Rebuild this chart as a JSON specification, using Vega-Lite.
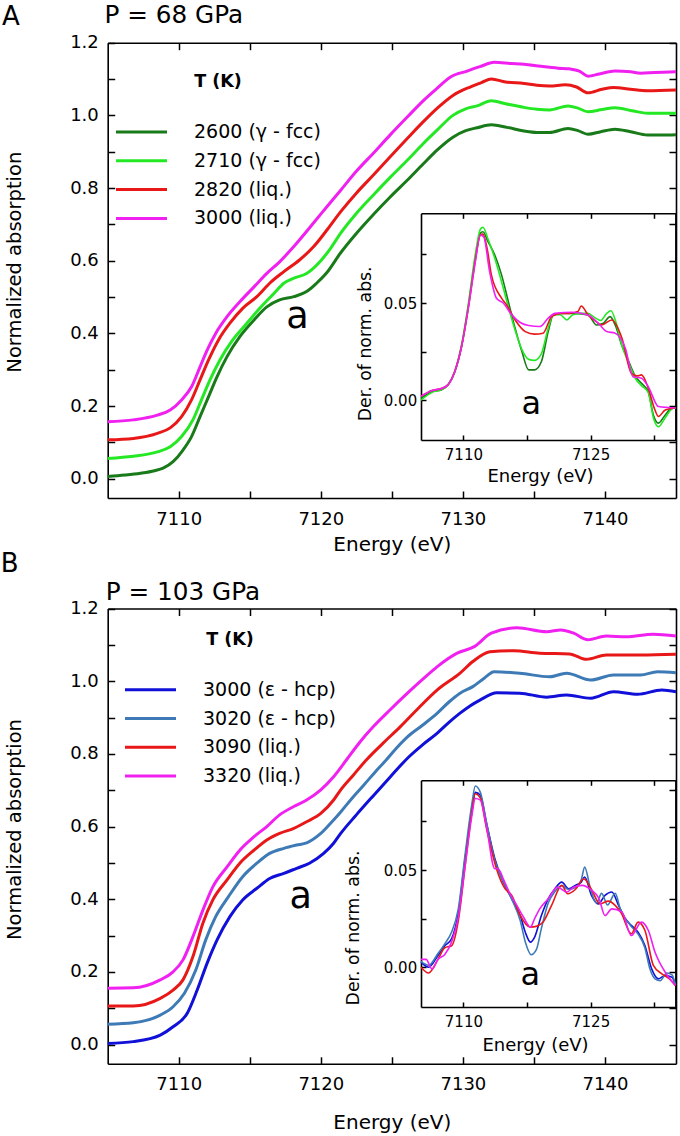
{
"$schema":"https://vega.github.io/schema/vega-lite/v6.json",
"padding":0,"background":"white","spacing":0,"bounds":"flush",
"config":{"font":"DejaVu Sans","view":{"stroke":null},
 "axis":{"grid":false,"domainColor":"#000","domainWidth":1.6,"tickColor":"#000","tickWidth":1.5,"labelColor":"#000","titleColor":"#000","labelFont":"DejaVu Sans","titleFont":"DejaVu Sans","titleFontWeight":"normal","labelFlush":false,"labelOverlap":false,"zindex":1},
 "text":{"font":"DejaVu Sans","color":"#000"}},
"resolve":{"scale":{"color":"independent","size":"independent"},"legend":{"color":"independent"}},
"datasets":{
"mainA":[
{"s":"2600 (γ - fcc)","e":7105,"v":0.006},{"s":"2600 (γ - fcc)","e":7106.2,"v":0.010},{"s":"2600 (γ - fcc)","e":7107.3,"v":0.015},{"s":"2600 (γ - fcc)","e":7108.3,"v":0.022},{"s":"2600 (γ - fcc)","e":7108.9,"v":0.029},{"s":"2600 (γ - fcc)","e":7109.6,"v":0.047},{"s":"2600 (γ - fcc)","e":7110.3,"v":0.079},{"s":"2600 (γ - fcc)","e":7110.9,"v":0.116},{"s":"2600 (γ - fcc)","e":7111.5,"v":0.171},{"s":"2600 (γ - fcc)","e":7112.1,"v":0.226},{"s":"2600 (γ - fcc)","e":7112.7,"v":0.281},{"s":"2600 (γ - fcc)","e":7113.4,"v":0.336},{"s":"2600 (γ - fcc)","e":7114.3,"v":0.391},{"s":"2600 (γ - fcc)","e":7115.3,"v":0.437},{"s":"2600 (γ - fcc)","e":7116.2,"v":0.473},{"s":"2600 (γ - fcc)","e":7117.1,"v":0.492},{"s":"2600 (γ - fcc)","e":7118.1,"v":0.501},{"s":"2600 (γ - fcc)","e":7119.0,"v":0.515},{"s":"2600 (γ - fcc)","e":7119.7,"v":0.538},{"s":"2600 (γ - fcc)","e":7120.4,"v":0.566},{"s":"2600 (γ - fcc)","e":7121.4,"v":0.622},{"s":"2600 (γ - fcc)","e":7122.5,"v":0.675},{"s":"2600 (γ - fcc)","e":7123.7,"v":0.727},{"s":"2600 (γ - fcc)","e":7124.9,"v":0.776},{"s":"2600 (γ - fcc)","e":7126.1,"v":0.822},{"s":"2600 (γ - fcc)","e":7127.2,"v":0.866},{"s":"2600 (γ - fcc)","e":7128.2,"v":0.905},{"s":"2600 (γ - fcc)","e":7129.3,"v":0.940},{"s":"2600 (γ - fcc)","e":7130.2,"v":0.958},{"s":"2600 (γ - fcc)","e":7131.0,"v":0.966},{"s":"2600 (γ - fcc)","e":7132.0,"v":0.974},{"s":"2600 (γ - fcc)","e":7133.1,"v":0.967},{"s":"2600 (γ - fcc)","e":7134.3,"v":0.957},{"s":"2600 (γ - fcc)","e":7135.2,"v":0.953},{"s":"2600 (γ - fcc)","e":7136.1,"v":0.953},{"s":"2600 (γ - fcc)","e":7137.4,"v":0.964},{"s":"2600 (γ - fcc)","e":7138.1,"v":0.958},{"s":"2600 (γ - fcc)","e":7138.8,"v":0.948},{"s":"2600 (γ - fcc)","e":7139.7,"v":0.955},{"s":"2600 (γ - fcc)","e":7140.7,"v":0.962},{"s":"2600 (γ - fcc)","e":7141.8,"v":0.955},{"s":"2600 (γ - fcc)","e":7143.0,"v":0.946},{"s":"2600 (γ - fcc)","e":7144.0,"v":0.946},{"s":"2600 (γ - fcc)","e":7145,"v":0.947},
{"s":"2710 (γ - fcc)","e":7105,"v":0.056},{"s":"2710 (γ - fcc)","e":7106.8,"v":0.062},{"s":"2710 (γ - fcc)","e":7108.5,"v":0.074},{"s":"2710 (γ - fcc)","e":7109.4,"v":0.088},{"s":"2710 (γ - fcc)","e":7110.2,"v":0.116},{"s":"2710 (γ - fcc)","e":7111.0,"v":0.162},{"s":"2710 (γ - fcc)","e":7111.6,"v":0.217},{"s":"2710 (γ - fcc)","e":7112.2,"v":0.272},{"s":"2710 (γ - fcc)","e":7112.9,"v":0.327},{"s":"2710 (γ - fcc)","e":7113.8,"v":0.382},{"s":"2710 (γ - fcc)","e":7114.8,"v":0.428},{"s":"2710 (γ - fcc)","e":7115.7,"v":0.469},{"s":"2710 (γ - fcc)","e":7116.7,"v":0.510},{"s":"2710 (γ - fcc)","e":7117.4,"v":0.538},{"s":"2710 (γ - fcc)","e":7118.1,"v":0.552},{"s":"2710 (γ - fcc)","e":7119.0,"v":0.565},{"s":"2710 (γ - fcc)","e":7120.0,"v":0.600},{"s":"2710 (γ - fcc)","e":7120.7,"v":0.635},{"s":"2710 (γ - fcc)","e":7121.4,"v":0.676},{"s":"2710 (γ - fcc)","e":7122.5,"v":0.730},{"s":"2710 (γ - fcc)","e":7123.7,"v":0.781},{"s":"2710 (γ - fcc)","e":7124.9,"v":0.830},{"s":"2710 (γ - fcc)","e":7126.1,"v":0.877},{"s":"2710 (γ - fcc)","e":7127.2,"v":0.922},{"s":"2710 (γ - fcc)","e":7128.2,"v":0.960},{"s":"2710 (γ - fcc)","e":7129.3,"v":1.000},{"s":"2710 (γ - fcc)","e":7130.2,"v":1.018},{"s":"2710 (γ - fcc)","e":7131.0,"v":1.026},{"s":"2710 (γ - fcc)","e":7132.0,"v":1.040},{"s":"2710 (γ - fcc)","e":7133.0,"v":1.032},{"s":"2710 (γ - fcc)","e":7134.3,"v":1.022},{"s":"2710 (γ - fcc)","e":7135.2,"v":1.017},{"s":"2710 (γ - fcc)","e":7136.1,"v":1.015},{"s":"2710 (γ - fcc)","e":7137.4,"v":1.026},{"s":"2710 (γ - fcc)","e":7138.1,"v":1.020},{"s":"2710 (γ - fcc)","e":7138.8,"v":1.010},{"s":"2710 (γ - fcc)","e":7139.8,"v":1.016},{"s":"2710 (γ - fcc)","e":7140.7,"v":1.021},{"s":"2710 (γ - fcc)","e":7142.0,"v":1.012},{"s":"2710 (γ - fcc)","e":7143.0,"v":1.006},{"s":"2710 (γ - fcc)","e":7145,"v":1.006},
{"s":"2820 (liq.)","e":7105,"v":0.107},{"s":"2820 (liq.)","e":7106.8,"v":0.111},{"s":"2820 (liq.)","e":7108.5,"v":0.125},{"s":"2820 (liq.)","e":7109.4,"v":0.140},{"s":"2820 (liq.)","e":7110.2,"v":0.171},{"s":"2820 (liq.)","e":7110.9,"v":0.217},{"s":"2820 (liq.)","e":7111.5,"v":0.272},{"s":"2820 (liq.)","e":7112.1,"v":0.327},{"s":"2820 (liq.)","e":7112.8,"v":0.382},{"s":"2820 (liq.)","e":7113.6,"v":0.428},{"s":"2820 (liq.)","e":7114.5,"v":0.469},{"s":"2820 (liq.)","e":7115.5,"v":0.501},{"s":"2820 (liq.)","e":7116.4,"v":0.538},{"s":"2820 (liq.)","e":7117.4,"v":0.570},{"s":"2820 (liq.)","e":7118.5,"v":0.602},{"s":"2820 (liq.)","e":7119.5,"v":0.639},{"s":"2820 (liq.)","e":7120.5,"v":0.688},{"s":"2820 (liq.)","e":7121.4,"v":0.735},{"s":"2820 (liq.)","e":7122.5,"v":0.786},{"s":"2820 (liq.)","e":7123.7,"v":0.836},{"s":"2820 (liq.)","e":7124.9,"v":0.887},{"s":"2820 (liq.)","e":7126.1,"v":0.937},{"s":"2820 (liq.)","e":7127.2,"v":0.982},{"s":"2820 (liq.)","e":7128.2,"v":1.020},{"s":"2820 (liq.)","e":7129.3,"v":1.055},{"s":"2820 (liq.)","e":7130.5,"v":1.078},{"s":"2820 (liq.)","e":7131.3,"v":1.090},{"s":"2820 (liq.)","e":7132.0,"v":1.100},{"s":"2820 (liq.)","e":7133.0,"v":1.092},{"s":"2820 (liq.)","e":7134.3,"v":1.088},{"s":"2820 (liq.)","e":7135.2,"v":1.083},{"s":"2820 (liq.)","e":7136.1,"v":1.081},{"s":"2820 (liq.)","e":7137.2,"v":1.084},{"s":"2820 (liq.)","e":7138.0,"v":1.078},{"s":"2820 (liq.)","e":7138.8,"v":1.062},{"s":"2820 (liq.)","e":7139.8,"v":1.072},{"s":"2820 (liq.)","e":7140.6,"v":1.077},{"s":"2820 (liq.)","e":7141.8,"v":1.072},{"s":"2820 (liq.)","e":7143,"v":1.068},{"s":"2820 (liq.)","e":7145,"v":1.070},
{"s":"3000 (liq.)","e":7105,"v":0.157},{"s":"3000 (liq.)","e":7106.8,"v":0.162},{"s":"3000 (liq.)","e":7108.5,"v":0.175},{"s":"3000 (liq.)","e":7109.4,"v":0.189},{"s":"3000 (liq.)","e":7110.2,"v":0.217},{"s":"3000 (liq.)","e":7110.9,"v":0.253},{"s":"3000 (liq.)","e":7111.5,"v":0.308},{"s":"3000 (liq.)","e":7112.0,"v":0.354},{"s":"3000 (liq.)","e":7112.6,"v":0.400},{"s":"3000 (liq.)","e":7113.4,"v":0.446},{"s":"3000 (liq.)","e":7114.3,"v":0.487},{"s":"3000 (liq.)","e":7115.3,"v":0.528},{"s":"3000 (liq.)","e":7116.2,"v":0.565},{"s":"3000 (liq.)","e":7117.1,"v":0.597},{"s":"3000 (liq.)","e":7118.1,"v":0.639},{"s":"3000 (liq.)","e":7119.7,"v":0.714},{"s":"3000 (liq.)","e":7120.5,"v":0.752},{"s":"3000 (liq.)","e":7121.4,"v":0.794},{"s":"3000 (liq.)","e":7122.5,"v":0.846},{"s":"3000 (liq.)","e":7123.7,"v":0.896},{"s":"3000 (liq.)","e":7124.9,"v":0.947},{"s":"3000 (liq.)","e":7126.1,"v":0.996},{"s":"3000 (liq.)","e":7127.2,"v":1.040},{"s":"3000 (liq.)","e":7128.2,"v":1.075},{"s":"3000 (liq.)","e":7129.1,"v":1.105},{"s":"3000 (liq.)","e":7130.3,"v":1.122},{"s":"3000 (liq.)","e":7131.2,"v":1.134},{"s":"3000 (liq.)","e":7132.2,"v":1.146},{"s":"3000 (liq.)","e":7133.4,"v":1.143},{"s":"3000 (liq.)","e":7134.3,"v":1.141},{"s":"3000 (liq.)","e":7135.5,"v":1.135},{"s":"3000 (liq.)","e":7136.7,"v":1.130},{"s":"3000 (liq.)","e":7137.5,"v":1.128},{"s":"3000 (liq.)","e":7138.2,"v":1.122},{"s":"3000 (liq.)","e":7138.8,"v":1.108},{"s":"3000 (liq.)","e":7139.6,"v":1.114},{"s":"3000 (liq.)","e":7140.7,"v":1.122},{"s":"3000 (liq.)","e":7141.8,"v":1.120},{"s":"3000 (liq.)","e":7142.5,"v":1.116},{"s":"3000 (liq.)","e":7143.5,"v":1.118},{"s":"3000 (liq.)","e":7145,"v":1.120}
],
"mainB":[
{"s":"3000 (ε - hcp)","e":7105,"v":0.003},{"s":"3000 (ε - hcp)","e":7106.8,"v":0.008},{"s":"3000 (ε - hcp)","e":7108.7,"v":0.026},{"s":"3000 (ε - hcp)","e":7109.6,"v":0.049},{"s":"3000 (ε - hcp)","e":7110.6,"v":0.086},{"s":"3000 (ε - hcp)","e":7111.3,"v":0.150},{"s":"3000 (ε - hcp)","e":7112.0,"v":0.224},{"s":"3000 (ε - hcp)","e":7112.7,"v":0.288},{"s":"3000 (ε - hcp)","e":7113.6,"v":0.352},{"s":"3000 (ε - hcp)","e":7114.5,"v":0.398},{"s":"3000 (ε - hcp)","e":7115.5,"v":0.430},{"s":"3000 (ε - hcp)","e":7116.4,"v":0.457},{"s":"3000 (ε - hcp)","e":7117.4,"v":0.471},{"s":"3000 (ε - hcp)","e":7118.3,"v":0.485},{"s":"3000 (ε - hcp)","e":7119.2,"v":0.499},{"s":"3000 (ε - hcp)","e":7120.2,"v":0.526},{"s":"3000 (ε - hcp)","e":7120.9,"v":0.554},{"s":"3000 (ε - hcp)","e":7121.4,"v":0.581},{"s":"3000 (ε - hcp)","e":7122.5,"v":0.632},{"s":"3000 (ε - hcp)","e":7123.7,"v":0.685},{"s":"3000 (ε - hcp)","e":7124.9,"v":0.737},{"s":"3000 (ε - hcp)","e":7126.1,"v":0.788},{"s":"3000 (ε - hcp)","e":7127.2,"v":0.826},{"s":"3000 (ε - hcp)","e":7128.2,"v":0.857},{"s":"3000 (ε - hcp)","e":7129.0,"v":0.886},{"s":"3000 (ε - hcp)","e":7129.8,"v":0.912},{"s":"3000 (ε - hcp)","e":7130.5,"v":0.932},{"s":"3000 (ε - hcp)","e":7131.2,"v":0.948},{"s":"3000 (ε - hcp)","e":7132.4,"v":0.968},{"s":"3000 (ε - hcp)","e":7134.0,"v":0.967},{"s":"3000 (ε - hcp)","e":7135.9,"v":0.956},{"s":"3000 (ε - hcp)","e":7137.3,"v":0.962},{"s":"3000 (ε - hcp)","e":7139.0,"v":0.953},{"s":"3000 (ε - hcp)","e":7140.6,"v":0.971},{"s":"3000 (ε - hcp)","e":7142.3,"v":0.964},{"s":"3000 (ε - hcp)","e":7144.0,"v":0.976},{"s":"3000 (ε - hcp)","e":7145,"v":0.971},
{"s":"3020 (ε - hcp)","e":7105,"v":0.056},{"s":"3020 (ε - hcp)","e":7106.8,"v":0.060},{"s":"3020 (ε - hcp)","e":7108.7,"v":0.081},{"s":"3020 (ε - hcp)","e":7109.6,"v":0.104},{"s":"3020 (ε - hcp)","e":7110.4,"v":0.141},{"s":"3020 (ε - hcp)","e":7111.2,"v":0.205},{"s":"3020 (ε - hcp)","e":7111.9,"v":0.288},{"s":"3020 (ε - hcp)","e":7112.6,"v":0.352},{"s":"3020 (ε - hcp)","e":7113.5,"v":0.407},{"s":"3020 (ε - hcp)","e":7114.5,"v":0.462},{"s":"3020 (ε - hcp)","e":7115.5,"v":0.499},{"s":"3020 (ε - hcp)","e":7116.4,"v":0.526},{"s":"3020 (ε - hcp)","e":7117.4,"v":0.540},{"s":"3020 (ε - hcp)","e":7118.3,"v":0.549},{"s":"3020 (ε - hcp)","e":7119.0,"v":0.555},{"s":"3020 (ε - hcp)","e":7120.0,"v":0.581},{"s":"3020 (ε - hcp)","e":7120.9,"v":0.618},{"s":"3020 (ε - hcp)","e":7121.4,"v":0.640},{"s":"3020 (ε - hcp)","e":7122.2,"v":0.678},{"s":"3020 (ε - hcp)","e":7123.0,"v":0.713},{"s":"3020 (ε - hcp)","e":7123.8,"v":0.749},{"s":"3020 (ε - hcp)","e":7124.6,"v":0.783},{"s":"3020 (ε - hcp)","e":7125.3,"v":0.815},{"s":"3020 (ε - hcp)","e":7126.1,"v":0.847},{"s":"3020 (ε - hcp)","e":7127.2,"v":0.880},{"s":"3020 (ε - hcp)","e":7128.2,"v":0.912},{"s":"3020 (ε - hcp)","e":7129.0,"v":0.942},{"s":"3020 (ε - hcp)","e":7129.8,"v":0.967},{"s":"3020 (ε - hcp)","e":7130.7,"v":0.985},{"s":"3020 (ε - hcp)","e":7131.5,"v":1.008},{"s":"3020 (ε - hcp)","e":7132.2,"v":1.026},{"s":"3020 (ε - hcp)","e":7134.0,"v":1.022},{"s":"3020 (ε - hcp)","e":7136.1,"v":1.012},{"s":"3020 (ε - hcp)","e":7137.3,"v":1.022},{"s":"3020 (ε - hcp)","e":7139.0,"v":1.003},{"s":"3020 (ε - hcp)","e":7140.6,"v":1.017},{"s":"3020 (ε - hcp)","e":7142.5,"v":1.017},{"s":"3020 (ε - hcp)","e":7143.7,"v":1.026},{"s":"3020 (ε - hcp)","e":7145,"v":1.023},
{"s":"3090 (liq.)","e":7105,"v":0.106},{"s":"3090 (liq.)","e":7106.8,"v":0.106},{"s":"3090 (liq.)","e":7108.7,"v":0.127},{"s":"3090 (liq.)","e":7109.6,"v":0.150},{"s":"3090 (liq.)","e":7110.3,"v":0.178},{"s":"3090 (liq.)","e":7111.0,"v":0.242},{"s":"3090 (liq.)","e":7111.7,"v":0.334},{"s":"3090 (liq.)","e":7112.4,"v":0.398},{"s":"3090 (liq.)","e":7113.4,"v":0.453},{"s":"3090 (liq.)","e":7114.3,"v":0.499},{"s":"3090 (liq.)","e":7115.3,"v":0.535},{"s":"3090 (liq.)","e":7116.2,"v":0.563},{"s":"3090 (liq.)","e":7117.1,"v":0.581},{"s":"3090 (liq.)","e":7118.1,"v":0.595},{"s":"3090 (liq.)","e":7119.0,"v":0.613},{"s":"3090 (liq.)","e":7120.0,"v":0.636},{"s":"3090 (liq.)","e":7120.9,"v":0.673},{"s":"3090 (liq.)","e":7121.4,"v":0.701},{"s":"3090 (liq.)","e":7122.3,"v":0.742},{"s":"3090 (liq.)","e":7123.2,"v":0.783},{"s":"3090 (liq.)","e":7124.4,"v":0.830},{"s":"3090 (liq.)","e":7125.6,"v":0.875},{"s":"3090 (liq.)","e":7126.9,"v":0.927},{"s":"3090 (liq.)","e":7128.2,"v":0.976},{"s":"3090 (liq.)","e":7129.8,"v":1.022},{"s":"3090 (liq.)","e":7130.7,"v":1.054},{"s":"3090 (liq.)","e":7131.9,"v":1.081},{"s":"3090 (liq.)","e":7133.6,"v":1.084},{"s":"3090 (liq.)","e":7135.4,"v":1.077},{"s":"3090 (liq.)","e":7137.5,"v":1.075},{"s":"3090 (liq.)","e":7138.7,"v":1.060},{"s":"3090 (liq.)","e":7140.1,"v":1.072},{"s":"3090 (liq.)","e":7142.5,"v":1.072},{"s":"3090 (liq.)","e":7145,"v":1.074},
{"s":"3320 (liq.)","e":7105,"v":0.155},{"s":"3320 (liq.)","e":7106.8,"v":0.156},{"s":"3320 (liq.)","e":7108.7,"v":0.178},{"s":"3320 (liq.)","e":7109.6,"v":0.200},{"s":"3320 (liq.)","e":7110.3,"v":0.233},{"s":"3320 (liq.)","e":7111.0,"v":0.297},{"s":"3320 (liq.)","e":7111.7,"v":0.370},{"s":"3320 (liq.)","e":7112.4,"v":0.434},{"s":"3320 (liq.)","e":7113.4,"v":0.489},{"s":"3320 (liq.)","e":7114.3,"v":0.535},{"s":"3320 (liq.)","e":7115.3,"v":0.572},{"s":"3320 (liq.)","e":7116.2,"v":0.600},{"s":"3320 (liq.)","e":7117.1,"v":0.632},{"s":"3320 (liq.)","e":7118.1,"v":0.655},{"s":"3320 (liq.)","e":7119.0,"v":0.673},{"s":"3320 (liq.)","e":7120.0,"v":0.701},{"s":"3320 (liq.)","e":7120.9,"v":0.737},{"s":"3320 (liq.)","e":7121.8,"v":0.783},{"s":"3320 (liq.)","e":7122.7,"v":0.830},{"s":"3320 (liq.)","e":7123.7,"v":0.875},{"s":"3320 (liq.)","e":7124.9,"v":0.922},{"s":"3320 (liq.)","e":7126.1,"v":0.967},{"s":"3320 (liq.)","e":7127.2,"v":1.006},{"s":"3320 (liq.)","e":7128.2,"v":1.040},{"s":"3320 (liq.)","e":7129.6,"v":1.077},{"s":"3320 (liq.)","e":7130.8,"v":1.095},{"s":"3320 (liq.)","e":7132.0,"v":1.132},{"s":"3320 (liq.)","e":7133.8,"v":1.147},{"s":"3320 (liq.)","e":7135.9,"v":1.136},{"s":"3320 (liq.)","e":7136.9,"v":1.141},{"s":"3320 (liq.)","e":7137.8,"v":1.132},{"s":"3320 (liq.)","e":7138.8,"v":1.114},{"s":"3320 (liq.)","e":7140.1,"v":1.124},{"s":"3320 (liq.)","e":7141.5,"v":1.122},{"s":"3320 (liq.)","e":7143.4,"v":1.129},{"s":"3320 (liq.)","e":7145,"v":1.124}
],
"insetA":[
{"s":"2600 (γ - fcc)","e":7105,"v":0.001},{"s":"2600 (γ - fcc)","e":7106.3,"v":0.0044},{"s":"2600 (γ - fcc)","e":7107.4,"v":0.0053},{"s":"2600 (γ - fcc)","e":7108.2,"v":0.0079},{"s":"2600 (γ - fcc)","e":7109.0,"v":0.0147},{"s":"2600 (γ - fcc)","e":7109.8,"v":0.028},{"s":"2600 (γ - fcc)","e":7110.6,"v":0.049},{"s":"2600 (γ - fcc)","e":7111.4,"v":0.073},{"s":"2600 (γ - fcc)","e":7112.0,"v":0.086},{"s":"2600 (γ - fcc)","e":7112.3,"v":0.0867},{"s":"2600 (γ - fcc)","e":7112.9,"v":0.0816},{"s":"2600 (γ - fcc)","e":7113.7,"v":0.0747},{"s":"2600 (γ - fcc)","e":7114.5,"v":0.0645},{"s":"2600 (γ - fcc)","e":7115.3,"v":0.0507},{"s":"2600 (γ - fcc)","e":7116.1,"v":0.037},{"s":"2600 (γ - fcc)","e":7116.9,"v":0.025},{"s":"2600 (γ - fcc)","e":7117.7,"v":0.0156},{"s":"2600 (γ - fcc)","e":7118.4,"v":0.0156},{"s":"2600 (γ - fcc)","e":7119.2,"v":0.0199},{"s":"2600 (γ - fcc)","e":7120.0,"v":0.0353},{"s":"2600 (γ - fcc)","e":7120.6,"v":0.0439},{"s":"2600 (γ - fcc)","e":7121.6,"v":0.0447},{"s":"2600 (γ - fcc)","e":7123.2,"v":0.0447},{"s":"2600 (γ - fcc)","e":7124.7,"v":0.0439},{"s":"2600 (γ - fcc)","e":7125.7,"v":0.0387},{"s":"2600 (γ - fcc)","e":7126.5,"v":0.0396},{"s":"2600 (γ - fcc)","e":7127.3,"v":0.043},{"s":"2600 (γ - fcc)","e":7127.9,"v":0.0387},{"s":"2600 (γ - fcc)","e":7128.7,"v":0.028},{"s":"2600 (γ - fcc)","e":7129.5,"v":0.0199},{"s":"2600 (γ - fcc)","e":7130.3,"v":0.0121},{"s":"2600 (γ - fcc)","e":7131.0,"v":0.0087},{"s":"2600 (γ - fcc)","e":7131.8,"v":0.0044},{"s":"2600 (γ - fcc)","e":7132.4,"v":-0.0076},{"s":"2600 (γ - fcc)","e":7133.0,"v":-0.0118},{"s":"2600 (γ - fcc)","e":7133.8,"v":-0.0076},{"s":"2600 (γ - fcc)","e":7134.6,"v":-0.0041},{"s":"2600 (γ - fcc)","e":7135,"v":-0.0041},
{"s":"2710 (γ - fcc)","e":7105,"v":0.000},{"s":"2710 (γ - fcc)","e":7106.3,"v":0.004},{"s":"2710 (γ - fcc)","e":7107.4,"v":0.0055},{"s":"2710 (γ - fcc)","e":7108.2,"v":0.008},{"s":"2710 (γ - fcc)","e":7109.0,"v":0.015},{"s":"2710 (γ - fcc)","e":7109.8,"v":0.029},{"s":"2710 (γ - fcc)","e":7110.6,"v":0.050},{"s":"2710 (γ - fcc)","e":7111.4,"v":0.075},{"s":"2710 (γ - fcc)","e":7112.0,"v":0.088},{"s":"2710 (γ - fcc)","e":7112.3,"v":0.089},{"s":"2710 (γ - fcc)","e":7112.9,"v":0.083},{"s":"2710 (γ - fcc)","e":7113.7,"v":0.073},{"s":"2710 (γ - fcc)","e":7114.5,"v":0.061},{"s":"2710 (γ - fcc)","e":7115.3,"v":0.048},{"s":"2710 (γ - fcc)","e":7116.1,"v":0.036},{"s":"2710 (γ - fcc)","e":7116.9,"v":0.026},{"s":"2710 (γ - fcc)","e":7117.7,"v":0.021},{"s":"2710 (γ - fcc)","e":7118.4,"v":0.0205},{"s":"2710 (γ - fcc)","e":7119.2,"v":0.024},{"s":"2710 (γ - fcc)","e":7120.0,"v":0.037},{"s":"2710 (γ - fcc)","e":7120.6,"v":0.044},{"s":"2710 (γ - fcc)","e":7121.4,"v":0.044},{"s":"2710 (γ - fcc)","e":7122.2,"v":0.0413},{"s":"2710 (γ - fcc)","e":7122.9,"v":0.044},{"s":"2710 (γ - fcc)","e":7124.0,"v":0.0447},{"s":"2710 (γ - fcc)","e":7124.7,"v":0.0447},{"s":"2710 (γ - fcc)","e":7125.5,"v":0.0425},{"s":"2710 (γ - fcc)","e":7126.2,"v":0.041},{"s":"2710 (γ - fcc)","e":7126.9,"v":0.0447},{"s":"2710 (γ - fcc)","e":7127.4,"v":0.046},{"s":"2710 (γ - fcc)","e":7128.0,"v":0.040},{"s":"2710 (γ - fcc)","e":7128.7,"v":0.028},{"s":"2710 (γ - fcc)","e":7129.5,"v":0.019},{"s":"2710 (γ - fcc)","e":7130.3,"v":0.011},{"s":"2710 (γ - fcc)","e":7131.0,"v":0.0075},{"s":"2710 (γ - fcc)","e":7131.8,"v":0.004},{"s":"2710 (γ - fcc)","e":7132.4,"v":-0.009},{"s":"2710 (γ - fcc)","e":7133.0,"v":-0.0137},{"s":"2710 (γ - fcc)","e":7133.8,"v":-0.009},{"s":"2710 (γ - fcc)","e":7134.6,"v":-0.0045},{"s":"2710 (γ - fcc)","e":7135,"v":-0.004},
{"s":"2820 (liq.)","e":7105,"v":0.002},{"s":"2820 (liq.)","e":7106.3,"v":0.005},{"s":"2820 (liq.)","e":7107.4,"v":0.006},{"s":"2820 (liq.)","e":7108.2,"v":0.008},{"s":"2820 (liq.)","e":7109.0,"v":0.015},{"s":"2820 (liq.)","e":7109.8,"v":0.028},{"s":"2820 (liq.)","e":7110.6,"v":0.048},{"s":"2820 (liq.)","e":7111.4,"v":0.072},{"s":"2820 (liq.)","e":7112.0,"v":0.085},{"s":"2820 (liq.)","e":7112.3,"v":0.0855},{"s":"2820 (liq.)","e":7112.8,"v":0.078},{"s":"2820 (liq.)","e":7113.3,"v":0.0645},{"s":"2820 (liq.)","e":7114.5,"v":0.0525},{"s":"2820 (liq.)","e":7115.1,"v":0.049},{"s":"2820 (liq.)","e":7116.1,"v":0.0413},{"s":"2820 (liq.)","e":7117.3,"v":0.0353},{"s":"2820 (liq.)","e":7118.4,"v":0.034},{"s":"2820 (liq.)","e":7119.4,"v":0.0345},{"s":"2820 (liq.)","e":7120.4,"v":0.043},{"s":"2820 (liq.)","e":7121.5,"v":0.0447},{"s":"2820 (liq.)","e":7122.5,"v":0.0447},{"s":"2820 (liq.)","e":7123.5,"v":0.0456},{"s":"2820 (liq.)","e":7123.9,"v":0.0485},{"s":"2820 (liq.)","e":7124.7,"v":0.0439},{"s":"2820 (liq.)","e":7125.5,"v":0.041},{"s":"2820 (liq.)","e":7126.3,"v":0.0387},{"s":"2820 (liq.)","e":7127.5,"v":0.0413},{"s":"2820 (liq.)","e":7128.7,"v":0.0319},{"s":"2820 (liq.)","e":7129.8,"v":0.0139},{"s":"2820 (liq.)","e":7130.5,"v":0.0125},{"s":"2820 (liq.)","e":7131.0,"v":0.013},{"s":"2820 (liq.)","e":7131.8,"v":0.0062},{"s":"2820 (liq.)","e":7132.5,"v":-0.004},{"s":"2820 (liq.)","e":7133.0,"v":-0.0084},{"s":"2820 (liq.)","e":7133.8,"v":-0.005},{"s":"2820 (liq.)","e":7135,"v":-0.004},
{"s":"3000 (liq.)","e":7105,"v":0.002},{"s":"3000 (liq.)","e":7106.3,"v":0.005},{"s":"3000 (liq.)","e":7107.4,"v":0.006},{"s":"3000 (liq.)","e":7108.2,"v":0.008},{"s":"3000 (liq.)","e":7109.0,"v":0.015},{"s":"3000 (liq.)","e":7109.8,"v":0.028},{"s":"3000 (liq.)","e":7110.6,"v":0.048},{"s":"3000 (liq.)","e":7111.4,"v":0.071},{"s":"3000 (liq.)","e":7112.0,"v":0.085},{"s":"3000 (liq.)","e":7112.4,"v":0.084},{"s":"3000 (liq.)","e":7113.1,"v":0.066},{"s":"3000 (liq.)","e":7113.9,"v":0.0525},{"s":"3000 (liq.)","e":7114.7,"v":0.050},{"s":"3000 (liq.)","e":7115.7,"v":0.0439},{"s":"3000 (liq.)","e":7116.7,"v":0.040},{"s":"3000 (liq.)","e":7117.7,"v":0.0384},{"s":"3000 (liq.)","e":7119.0,"v":0.0379},{"s":"3000 (liq.)","e":7120.0,"v":0.0422},{"s":"3000 (liq.)","e":7120.8,"v":0.0447},{"s":"3000 (liq.)","e":7122.8,"v":0.0453},{"s":"3000 (liq.)","e":7124.7,"v":0.0439},{"s":"3000 (liq.)","e":7126.1,"v":0.0387},{"s":"3000 (liq.)","e":7126.9,"v":0.0353},{"s":"3000 (liq.)","e":7127.9,"v":0.0345},{"s":"3000 (liq.)","e":7129.1,"v":0.0267},{"s":"3000 (liq.)","e":7130.0,"v":0.0121},{"s":"3000 (liq.)","e":7131.0,"v":0.0113},{"s":"3000 (liq.)","e":7131.8,"v":0.007},{"s":"3000 (liq.)","e":7133.0,"v":-0.0033},{"s":"3000 (liq.)","e":7134.2,"v":-0.0038},{"s":"3000 (liq.)","e":7135,"v":-0.004}
],
"insetB":[
{"s":"3000 (ε - hcp)","e":7105,"v":0.0026},{"s":"3000 (ε - hcp)","e":7105.9,"v":0.0},{"s":"3000 (ε - hcp)","e":7107.0,"v":0.006},{"s":"3000 (ε - hcp)","e":7107.8,"v":0.011},{"s":"3000 (ε - hcp)","e":7108.6,"v":0.0146},{"s":"3000 (ε - hcp)","e":7109.4,"v":0.028},{"s":"3000 (ε - hcp)","e":7110.2,"v":0.056},{"s":"3000 (ε - hcp)","e":7111.0,"v":0.080},{"s":"3000 (ε - hcp)","e":7111.4,"v":0.090},{"s":"3000 (ε - hcp)","e":7112.0,"v":0.0885},{"s":"3000 (ε - hcp)","e":7112.7,"v":0.0747},{"s":"3000 (ε - hcp)","e":7113.7,"v":0.056},{"s":"3000 (ε - hcp)","e":7114.7,"v":0.0438},{"s":"3000 (ε - hcp)","e":7115.7,"v":0.0352},{"s":"3000 (ε - hcp)","e":7116.7,"v":0.0266},{"s":"3000 (ε - hcp)","e":7117.3,"v":0.018},{"s":"3000 (ε - hcp)","e":7117.9,"v":0.0129},{"s":"3000 (ε - hcp)","e":7118.4,"v":0.0155},{"s":"3000 (ε - hcp)","e":7119.2,"v":0.0266},{"s":"3000 (ε - hcp)","e":7120.0,"v":0.0352},{"s":"3000 (ε - hcp)","e":7120.8,"v":0.0404},{"s":"3000 (ε - hcp)","e":7121.6,"v":0.0438},{"s":"3000 (ε - hcp)","e":7122.4,"v":0.0404},{"s":"3000 (ε - hcp)","e":7123.2,"v":0.0421},{"s":"3000 (ε - hcp)","e":7123.9,"v":0.0438},{"s":"3000 (ε - hcp)","e":7124.3,"v":0.0464},{"s":"3000 (ε - hcp)","e":7125.1,"v":0.037},{"s":"3000 (ε - hcp)","e":7125.9,"v":0.0326},{"s":"3000 (ε - hcp)","e":7126.7,"v":0.037},{"s":"3000 (ε - hcp)","e":7127.5,"v":0.0387},{"s":"3000 (ε - hcp)","e":7128.3,"v":0.0318},{"s":"3000 (ε - hcp)","e":7129.1,"v":0.0249},{"s":"3000 (ε - hcp)","e":7129.8,"v":0.0215},{"s":"3000 (ε - hcp)","e":7130.6,"v":0.018},{"s":"3000 (ε - hcp)","e":7131.4,"v":0.0112},{"s":"3000 (ε - hcp)","e":7132.2,"v":-0.0009},{"s":"3000 (ε - hcp)","e":7133.0,"v":-0.006},{"s":"3000 (ε - hcp)","e":7133.8,"v":-0.0043},{"s":"3000 (ε - hcp)","e":7134.6,"v":-0.0052},{"s":"3000 (ε - hcp)","e":7135,"v":-0.009},
{"s":"3020 (ε - hcp)","e":7105,"v":0.003},{"s":"3020 (ε - hcp)","e":7105.9,"v":0.001},{"s":"3020 (ε - hcp)","e":7107.0,"v":0.007},{"s":"3020 (ε - hcp)","e":7107.8,"v":0.012},{"s":"3020 (ε - hcp)","e":7108.6,"v":0.018},{"s":"3020 (ε - hcp)","e":7109.4,"v":0.030},{"s":"3020 (ε - hcp)","e":7110.2,"v":0.058},{"s":"3020 (ε - hcp)","e":7111.0,"v":0.084},{"s":"3020 (ε - hcp)","e":7111.4,"v":0.0933},{"s":"3020 (ε - hcp)","e":7112.0,"v":0.090},{"s":"3020 (ε - hcp)","e":7112.7,"v":0.075},{"s":"3020 (ε - hcp)","e":7113.7,"v":0.055},{"s":"3020 (ε - hcp)","e":7114.7,"v":0.044},{"s":"3020 (ε - hcp)","e":7115.7,"v":0.035},{"s":"3020 (ε - hcp)","e":7116.7,"v":0.024},{"s":"3020 (ε - hcp)","e":7117.3,"v":0.013},{"s":"3020 (ε - hcp)","e":7118.0,"v":0.0064},{"s":"3020 (ε - hcp)","e":7118.6,"v":0.009},{"s":"3020 (ε - hcp)","e":7119.2,"v":0.020},{"s":"3020 (ε - hcp)","e":7120.0,"v":0.033},{"s":"3020 (ε - hcp)","e":7120.8,"v":0.039},{"s":"3020 (ε - hcp)","e":7121.6,"v":0.042},{"s":"3020 (ε - hcp)","e":7122.4,"v":0.040},{"s":"3020 (ε - hcp)","e":7123.2,"v":0.041},{"s":"3020 (ε - hcp)","e":7123.9,"v":0.045},{"s":"3020 (ε - hcp)","e":7124.3,"v":0.0515},{"s":"3020 (ε - hcp)","e":7125.0,"v":0.040},{"s":"3020 (ε - hcp)","e":7125.7,"v":0.033},{"s":"3020 (ε - hcp)","e":7126.3,"v":0.038},{"s":"3020 (ε - hcp)","e":7127.0,"v":0.032},{"s":"3020 (ε - hcp)","e":7127.9,"v":0.038},{"s":"3020 (ε - hcp)","e":7128.5,"v":0.030},{"s":"3020 (ε - hcp)","e":7129.1,"v":0.025},{"s":"3020 (ε - hcp)","e":7129.8,"v":0.021},{"s":"3020 (ε - hcp)","e":7130.6,"v":0.017},{"s":"3020 (ε - hcp)","e":7131.4,"v":0.010},{"s":"3020 (ε - hcp)","e":7132.0,"v":-0.001},{"s":"3020 (ε - hcp)","e":7132.6,"v":-0.006},{"s":"3020 (ε - hcp)","e":7133.2,"v":-0.007},{"s":"3020 (ε - hcp)","e":7134.0,"v":-0.003},{"s":"3020 (ε - hcp)","e":7134.6,"v":-0.004},{"s":"3020 (ε - hcp)","e":7135,"v":-0.009},
{"s":"3090 (liq.)","e":7105,"v":0.0},{"s":"3090 (liq.)","e":7105.9,"v":-0.003},{"s":"3090 (liq.)","e":7107.0,"v":0.004},{"s":"3090 (liq.)","e":7107.8,"v":0.010},{"s":"3090 (liq.)","e":7108.6,"v":0.011},{"s":"3090 (liq.)","e":7109.4,"v":0.024},{"s":"3090 (liq.)","e":7110.2,"v":0.052},{"s":"3090 (liq.)","e":7111.0,"v":0.080},{"s":"3090 (liq.)","e":7111.4,"v":0.0893},{"s":"3090 (liq.)","e":7112.0,"v":0.087},{"s":"3090 (liq.)","e":7112.7,"v":0.072},{"s":"3090 (liq.)","e":7113.9,"v":0.0507},{"s":"3090 (liq.)","e":7114.9,"v":0.0404},{"s":"3090 (liq.)","e":7115.7,"v":0.037},{"s":"3090 (liq.)","e":7116.7,"v":0.0266},{"s":"3090 (liq.)","e":7117.9,"v":0.0206},{"s":"3090 (liq.)","e":7118.6,"v":0.021},{"s":"3090 (liq.)","e":7119.4,"v":0.0232},{"s":"3090 (liq.)","e":7120.4,"v":0.0318},{"s":"3090 (liq.)","e":7121.6,"v":0.0421},{"s":"3090 (liq.)","e":7122.3,"v":0.0378},{"s":"3090 (liq.)","e":7123.2,"v":0.040},{"s":"3090 (liq.)","e":7124.2,"v":0.0455},{"s":"3090 (liq.)","e":7125.1,"v":0.040},{"s":"3090 (liq.)","e":7126.1,"v":0.0326},{"s":"3090 (liq.)","e":7127.1,"v":0.034},{"s":"3090 (liq.)","e":7127.9,"v":0.0318},{"s":"3090 (liq.)","e":7128.6,"v":0.028},{"s":"3090 (liq.)","e":7129.8,"v":0.0172},{"s":"3090 (liq.)","e":7130.6,"v":0.0232},{"s":"3090 (liq.)","e":7131.4,"v":0.019},{"s":"3090 (liq.)","e":7132.4,"v":0.0009},{"s":"3090 (liq.)","e":7133.4,"v":-0.0034},{"s":"3090 (liq.)","e":7134.3,"v":-0.006},{"s":"3090 (liq.)","e":7135,"v":-0.0094},
{"s":"3320 (liq.)","e":7105,"v":0.004},{"s":"3320 (liq.)","e":7105.6,"v":0.004},{"s":"3320 (liq.)","e":7106.3,"v":-0.001},{"s":"3320 (liq.)","e":7107.0,"v":0.004},{"s":"3320 (liq.)","e":7107.8,"v":0.0065},{"s":"3320 (liq.)","e":7108.6,"v":0.0129},{"s":"3320 (liq.)","e":7109.4,"v":0.0257},{"s":"3320 (liq.)","e":7110.2,"v":0.052},{"s":"3320 (liq.)","e":7111.0,"v":0.078},{"s":"3320 (liq.)","e":7111.4,"v":0.0868},{"s":"3320 (liq.)","e":7112.0,"v":0.086},{"s":"3320 (liq.)","e":7112.7,"v":0.0729},{"s":"3320 (liq.)","e":7113.7,"v":0.0507},{"s":"3320 (liq.)","e":7114.1,"v":0.0507},{"s":"3320 (liq.)","e":7114.7,"v":0.0455},{"s":"3320 (liq.)","e":7115.5,"v":0.0378},{"s":"3320 (liq.)","e":7116.3,"v":0.0318},{"s":"3320 (liq.)","e":7117.1,"v":0.0257},{"s":"3320 (liq.)","e":7117.9,"v":0.0206},{"s":"3320 (liq.)","e":7118.4,"v":0.025},{"s":"3320 (liq.)","e":7119.0,"v":0.030},{"s":"3320 (liq.)","e":7120.0,"v":0.0352},{"s":"3320 (liq.)","e":7121.1,"v":0.0412},{"s":"3320 (liq.)","e":7122.2,"v":0.0387},{"s":"3320 (liq.)","e":7123.0,"v":0.0412},{"s":"3320 (liq.)","e":7124.0,"v":0.0421},{"s":"3320 (liq.)","e":7125.0,"v":0.040},{"s":"3320 (liq.)","e":7126.0,"v":0.0352},{"s":"3320 (liq.)","e":7126.7,"v":0.0266},{"s":"3320 (liq.)","e":7127.5,"v":0.030},{"s":"3320 (liq.)","e":7128.7,"v":0.0283},{"s":"3320 (liq.)","e":7129.8,"v":0.0163},{"s":"3320 (liq.)","e":7131.0,"v":0.0232},{"s":"3320 (liq.)","e":7131.8,"v":0.019},{"s":"3320 (liq.)","e":7132.6,"v":0.0077},{"s":"3320 (liq.)","e":7133.8,"v":-0.0026},{"s":"3320 (liq.)","e":7135,"v":-0.0094}
],
"textA":[{"t":"A","x":7097.56,"y":1.2488},{"t":"P = 68 GPa","x":7104.78,"y":1.2535},{"t":"a","x":7117.56,"y":0.414},{"t":"a","x":7134.13,"y":0.1773}],
"textB":[{"t":"B","x":7097.47,"y":1.3014},{"t":"P = 103 GPa","x":7104.87,"y":1.2235},{"t":"a","x":7117.8,"y":0.375},{"t":"a","x":7134.06,"y":0.163}]
},
"vconcat":[
{"width":680,"height":568,
 "resolve":{"scale":{"x":"independent","y":"independent","color":"independent","size":"independent"},"axis":{"x":"independent","y":"independent"},"legend":{"color":"independent"}},
 "layer":[
 {"data":{"name":"mainA"},"mark":{"type":"line","strokeWidth":3,"interpolate":"monotone"},
  "encoding":{
   "x":{"field":"e","type":"quantitative","scale":{"domain":[7105,7145],"range":[107.7,676],"nice":false,"zero":false},
    "axis":{"orient":"bottom","offset":-70,"values":[7110,7115,7120,7125,7130,7135,7140],"format":"d","labelExpr":"datum.value%10==0?datum.label:''","tickSize":-7,"labelFontSize":18,"labelPadding":33,"labelBaseline":"alphabetic","title":"Energy (eV)","titleFontSize":20,"titleY":52,"titleBaseline":"alphabetic"}},
   "y":{"field":"v","type":"quantitative","scale":{"domain":[-0.053,1.2],"range":[498,42.7],"nice":false,"zero":false},
    "axis":{"orient":"left","offset":-107.7,"values":[0,0.1,0.2,0.3,0.4,0.5,0.6,0.7,0.8,0.9,1.0,1.1,1.2],"format":".1f","labelExpr":"round(datum.value*10)%2==0?datum.label:''","tickSize":-7,"labelFontSize":18,"labelPadding":16.4,"title":"Normalized absorption","titleFontSize":19.5,"titleX":-87.7,"titleY":261.7,"titleBaseline":"alphabetic","titleAngle":-90}},
   "color":{"field":"s","type":"nominal","scale":{"domain":["2600 (γ - fcc)","2710 (γ - fcc)","2820 (liq.)","3000 (liq.)"],"range":["#187a18","#25e825","#e81818","#f020f0"]},
    "legend":{"orient":"none","legendX":116,"legendY":73,"direction":"vertical","title":"T (K)","titleFont":"DejaVu Sans","titleFontSize":17.5,"titleFontWeight":"bold","titleColor":"#000","titleAnchor":"middle","titleAlign":"center","titleBaseline":"top","titlePadding":31.5,"symbolType":"M-3,0H3","symbolSize":289,"symbolStrokeWidth":3,"symbolOffset":15.5,"labelFont":"DejaVu Sans","labelFontSize":19,"labelColor":"#000","labelOffset":42.5,"labelLimit":0,"rowPadding":8.8,"padding":0}}}},
 {"data":{"name":"mainA"},"mark":{"type":"line","opacity":0},
  "encoding":{
   "x":{"field":"e","type":"quantitative","scale":{"domain":[7105,7145],"range":[107.7,676],"nice":false,"zero":false},"axis":{"orient":"top","offset":-42.7,"values":[7110,7115,7120,7125,7130,7135,7140],"tickSize":-7,"labels":false,"title":null}},
   "y":{"field":"v","type":"quantitative","scale":{"domain":[-0.053,1.2],"range":[498,42.7],"nice":false,"zero":false},"axis":{"orient":"right","offset":-4,"values":[0,0.1,0.2,0.3,0.4,0.5,0.6,0.7,0.8,0.9,1.0,1.1,1.2],"tickSize":-7,"labels":false,"title":null}}}},
 {"data":{"name":"insetA"},"mark":{"type":"line","strokeWidth":1.6,"interpolate":"monotone"},
  "encoding":{
   "x":{"field":"e","type":"quantitative","scale":{"domain":[7105,7135],"range":[421,675.4],"nice":false,"zero":false},
    "axis":{"orient":"bottom","offset":-128,"values":[7110,7117.5,7125,7132.5],"format":"d","labelExpr":"datum.value==7110||datum.value==7125?datum.label:''","tickSize":-5,"labelFontSize":15,"labelPadding":24,"labelBaseline":"alphabetic","title":"Energy (eV)","titleFontSize":18,"titleX":540,"titleY":41.7,"titleBaseline":"alphabetic"}},
   "y":{"field":"v","type":"quantitative","scale":{"domain":[-0.0205,0.0962],"range":[440,213.3],"nice":false,"zero":false},
    "axis":{"orient":"left","offset":-421,"values":[0,0.025,0.05,0.075],"format":".2f","labelExpr":"datum.value==0||datum.value==0.05?datum.label:''","tickSize":-5,"labelFontSize":15,"labelPadding":9.3,"title":"Der. of norm. abs.","titleFontSize":17.3,"titleX":-51,"titleY":343.3,"titleBaseline":"alphabetic","titleAngle":-90}},
   "color":{"field":"s","type":"nominal","scale":{"domain":["2600 (γ - fcc)","2710 (γ - fcc)","2820 (liq.)","3000 (liq.)"],"range":["#187a18","#25e825","#e81818","#f020f0"]},"legend":null}}},
 {"data":{"name":"insetA"},"mark":{"type":"line","opacity":0},
  "encoding":{
   "x":{"field":"e","type":"quantitative","scale":{"domain":[7105,7135],"range":[421,675.4],"nice":false,"zero":false},"axis":{"orient":"top","offset":-213.3,"values":[7110,7117.5,7125,7132.5],"tickSize":-5,"labels":false,"title":null}},
   "y":{"field":"v","type":"quantitative","scale":{"domain":[-0.0205,0.0962],"range":[440,213.3],"nice":false,"zero":false},"axis":{"orient":"right","offset":-4.6,"values":[0,0.025,0.05,0.075],"tickSize":0,"labels":false,"title":null}}}},
 {"data":{"name":"textA"},"mark":{"type":"text","align":"left","baseline":"alphabetic","font":"DejaVu Sans"},
  "encoding":{
   "x":{"field":"x","type":"quantitative","scale":{"domain":[7105,7145],"range":[107.7,676],"nice":false,"zero":false},"axis":null},
   "y":{"field":"y","type":"quantitative","scale":{"domain":[-0.053,1.2],"range":[498,42.7],"nice":false,"zero":false},"axis":null},
   "text":{"field":"t"},
   "size":{"condition":[{"test":"datum.x>7130","value":32},{"test":"datum.t==='a'","value":36.6},{"test":"datum.t==='A'","value":26}],"value":24.7}}}
 ]},
{"width":680,"height":568,
 "resolve":{"scale":{"x":"independent","y":"independent","color":"independent","size":"independent"},"axis":{"x":"independent","y":"independent"},"legend":{"color":"independent"}},
 "layer":[
 {"data":{"name":"mainB"},"mark":{"type":"line","strokeWidth":3,"interpolate":"monotone"},
  "encoding":{
   "x":{"field":"e","type":"quantitative","scale":{"domain":[7105,7145],"range":[107.7,676],"nice":false,"zero":false},
    "axis":{"orient":"bottom","offset":-72.2,"values":[7110,7115,7120,7125,7130,7135,7140],"format":"d","labelExpr":"datum.value%10==0?datum.label:''","tickSize":-7,"labelFontSize":18,"labelPadding":33,"labelBaseline":"alphabetic","title":"Energy (eV)","titleFontSize":20,"titleY":65,"titleBaseline":"alphabetic"}},
   "y":{"field":"v","type":"quantitative","scale":{"domain":[-0.053,1.2],"range":[495.8,40.5],"nice":false,"zero":false},
    "axis":{"orient":"left","offset":-107.7,"values":[0,0.1,0.2,0.3,0.4,0.5,0.6,0.7,0.8,0.9,1.0,1.1,1.2],"format":".1f","labelExpr":"round(datum.value*10)%2==0?datum.label:''","tickSize":-7,"labelFontSize":18,"labelPadding":16.4,"title":"Normalized absorption","titleFontSize":19.5,"titleX":-87.7,"titleY":261,"titleBaseline":"alphabetic","titleAngle":-90}},
   "color":{"field":"s","type":"nominal","scale":{"domain":["3000 (ε - hcp)","3020 (ε - hcp)","3090 (liq.)","3320 (liq.)"],"range":["#1010d8","#3e7bb6","#e81818","#f020f0"]},
    "legend":{"orient":"none","legendX":125,"legendY":62.7,"direction":"vertical","title":"T (K)","titleFont":"DejaVu Sans","titleFontSize":17.5,"titleFontWeight":"bold","titleColor":"#000","titleAnchor":"middle","titleAlign":"center","titleBaseline":"top","titlePadding":31.5,"symbolType":"M-3,0H3","symbolSize":289,"symbolStrokeWidth":3,"symbolOffset":15.5,"labelFont":"DejaVu Sans","labelFontSize":19,"labelColor":"#000","labelOffset":42.5,"labelLimit":0,"rowPadding":8.8,"padding":0}}}},
 {"data":{"name":"mainB"},"mark":{"type":"line","opacity":0},
  "encoding":{
   "x":{"field":"e","type":"quantitative","scale":{"domain":[7105,7145],"range":[107.7,676],"nice":false,"zero":false},"axis":{"orient":"top","offset":-40.5,"values":[7110,7115,7120,7125,7130,7135,7140],"tickSize":-7,"labels":false,"title":null}},
   "y":{"field":"v","type":"quantitative","scale":{"domain":[-0.053,1.2],"range":[495.8,40.5],"nice":false,"zero":false},"axis":{"orient":"right","offset":-4,"values":[0,0.1,0.2,0.3,0.4,0.5,0.6,0.7,0.8,0.9,1.0,1.1,1.2],"tickSize":-7,"labels":false,"title":null}}}},
 {"data":{"name":"insetB"},"mark":{"type":"line","strokeWidth":1.6,"interpolate":"monotone"},
  "encoding":{
   "x":{"field":"e","type":"quantitative","scale":{"domain":[7105,7135],"range":[421,675.4],"nice":false,"zero":false},
    "axis":{"orient":"bottom","offset":-129,"values":[7110,7117.5,7125,7132.5],"format":"d","labelExpr":"datum.value==7110||datum.value==7125?datum.label:''","tickSize":-5,"labelFontSize":15,"labelPadding":24,"labelBaseline":"alphabetic","title":"Energy (eV)","titleFontSize":18,"titleX":535,"titleY":43,"titleBaseline":"alphabetic"}},
   "y":{"field":"v","type":"quantitative","scale":{"domain":[-0.0205,0.0962],"range":[439,212.3],"nice":false,"zero":false},
    "axis":{"orient":"left","offset":-421,"values":[0,0.025,0.05,0.075],"format":".2f","labelExpr":"datum.value==0||datum.value==0.05?datum.label:''","tickSize":-5,"labelFontSize":15,"labelPadding":9.3,"title":"Der. of norm. abs.","titleFontSize":17.3,"titleX":-62.7,"titleY":359.5,"titleBaseline":"alphabetic","titleAngle":-90}},
   "color":{"field":"s","type":"nominal","scale":{"domain":["3000 (ε - hcp)","3020 (ε - hcp)","3090 (liq.)","3320 (liq.)"],"range":["#1010d8","#3e7bb6","#e81818","#f020f0"]},"legend":null}}},
 {"data":{"name":"insetB"},"mark":{"type":"line","opacity":0},
  "encoding":{
   "x":{"field":"e","type":"quantitative","scale":{"domain":[7105,7135],"range":[421,675.4],"nice":false,"zero":false},"axis":{"orient":"top","offset":-212.3,"values":[7110,7117.5,7125,7132.5],"tickSize":-5,"labels":false,"title":null}},
   "y":{"field":"v","type":"quantitative","scale":{"domain":[-0.0205,0.0962],"range":[439,212.3],"nice":false,"zero":false},"axis":{"orient":"right","offset":-4.6,"values":[0,0.025,0.05,0.075],"tickSize":0,"labels":false,"title":null}}}},
 {"data":{"name":"textB"},"mark":{"type":"text","align":"left","baseline":"alphabetic","font":"DejaVu Sans"},
  "encoding":{
   "x":{"field":"x","type":"quantitative","scale":{"domain":[7105,7145],"range":[107.7,676],"nice":false,"zero":false},"axis":null},
   "y":{"field":"y","type":"quantitative","scale":{"domain":[-0.053,1.2],"range":[495.8,40.5],"nice":false,"zero":false},"axis":null},
   "text":{"field":"t"},
   "size":{"condition":[{"test":"datum.x>7130","value":32},{"test":"datum.t==='a'","value":36.6},{"test":"datum.t==='B'","value":26}],"value":24.7}}}
 ]}
]
}
